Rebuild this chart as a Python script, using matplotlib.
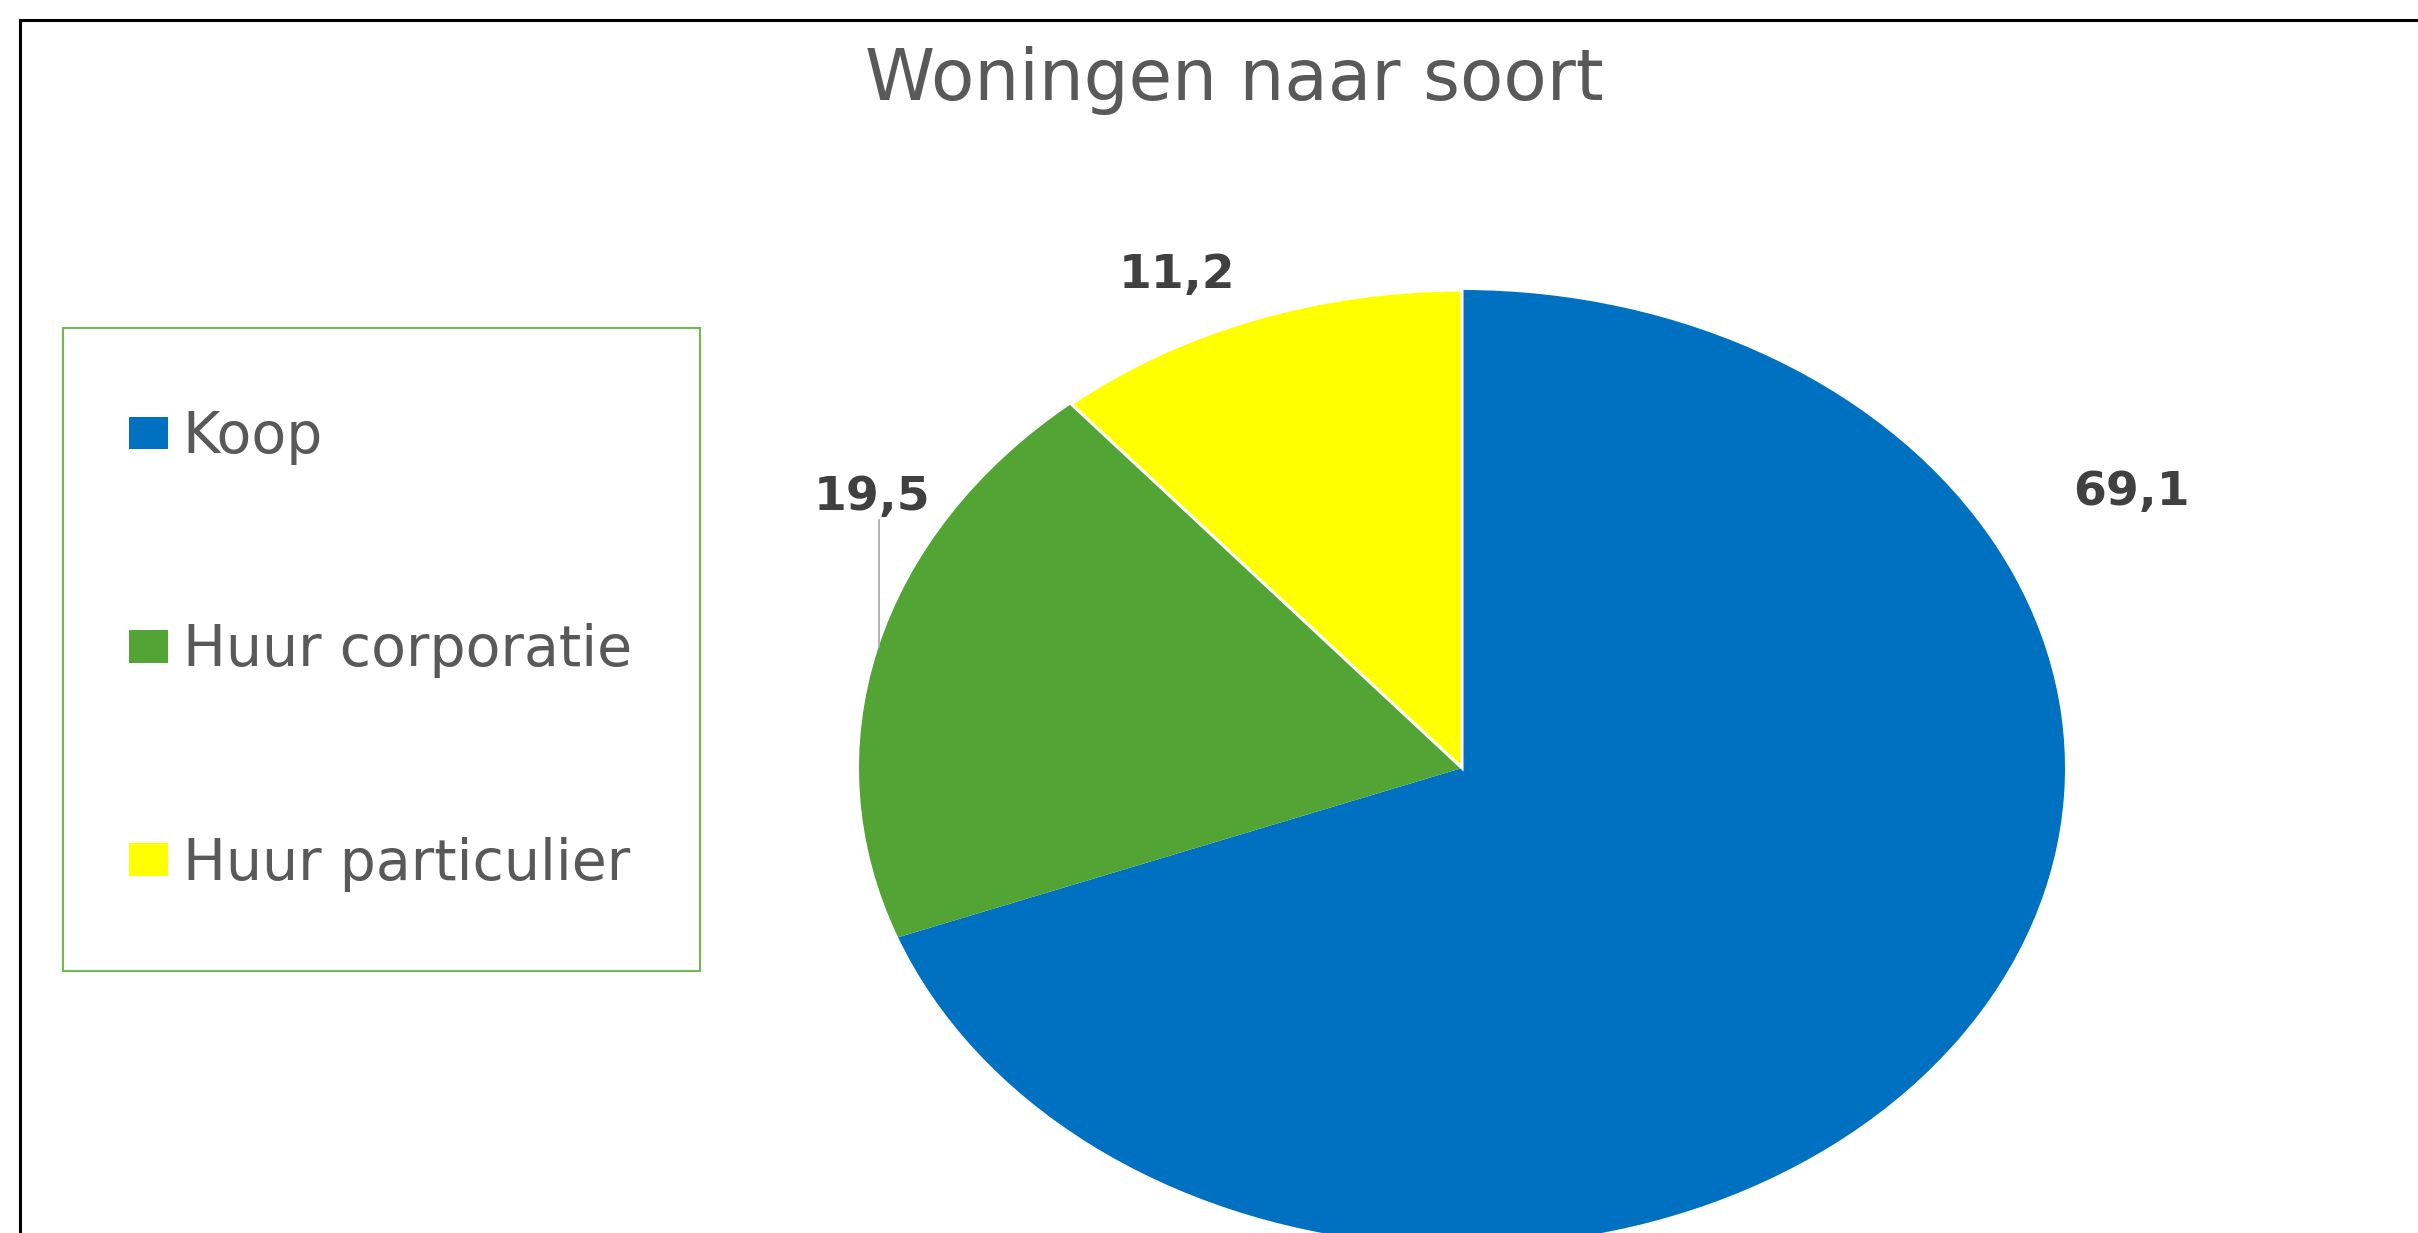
import matplotlib
matplotlib.use("Agg")
import matplotlib.pyplot as plt
from matplotlib.patches import Patch, Rectangle
from matplotlib.lines import Line2D

# data
categories = ["Koop", "Huur corporatie", "Huur particulier"]
shares = [69.1, 19.5, 11.2]
value_labels = ["69,1", "19,5", "11,2"]
colors = ["#0070C0", "#52A535", "#FFFF00"]

W, H = 2418, 1233
plt.rcParams["font.family"] = ["DejaVu Sans"]


def fx(x):
    return x / W


def fy(y):
    return 1 - y / H


fig = plt.figure(figsize=(W / 100, H / 100), dpi=100)
ax = fig.add_axes([0, 0, 1, 1])

# pie is drawn as a stretched ellipse (Excel style)
cx, cy, rx, ry = 1462, 768, 603, 478
wedges, _ = ax.pie(shares, colors=colors, startangle=90, counterclock=False,
                   wedgeprops=dict(edgecolor="none", linewidth=0))
# only the small slice shows a white border in the original
wedges[2].set_edgecolor("white")
wedges[2].set_linewidth(2.2)
ax.set_aspect("auto")
ax.set_xlim(-cx / rx, (W - cx) / rx)
ax.set_ylim(-(H - cy) / ry, cy / ry)
ax.axis("off")

# title
fig.text(fx(1234), fy(100), "Woningen naar soort", ha="center", va="baseline",
         fontsize=51, color="#595959")

# value labels
label_pos = [(2131, 505), (872, 510), (1177, 288)]
for txt, (x, y) in zip(value_labels, label_pos):
    fig.text(fx(x), fy(y), txt, ha="center", va="baseline", fontsize=34,
             fontweight="bold", color="#404040")

# leader line for 19,5
fig.add_artist(Line2D([fx(879), fx(879)], [fy(520), fy(647)],
                      color="#a6a6a6", lw=1.2))

# legend
handles = [Patch(facecolor=c, edgecolor="none") for c in colors]
fig.legend(handles, categories, loc="center left",
           bbox_to_anchor=(fx(129), fy(651)), frameon=False, fontsize=41,
           labelcolor="#595959", handlelength=0.68, handleheight=0.5,
           handletextpad=0.26, labelspacing=2.78, borderpad=0, borderaxespad=0)
fig.add_artist(Rectangle((fx(63), fy(971)), (700 - 63) / W, (971 - 328) / H,
                         transform=fig.transFigure, fill=False,
                         edgecolor="#70B850", lw=1.5))

# outer frame (top and left edges visible)
fig.add_artist(Line2D([fx(20), 1], [fy(20), fy(20)], color="black", lw=2.2))
fig.add_artist(Line2D([fx(20), fx(20)], [fy(20), 0], color="black", lw=2.2))

fig.savefig("out.png", dpi=100)
